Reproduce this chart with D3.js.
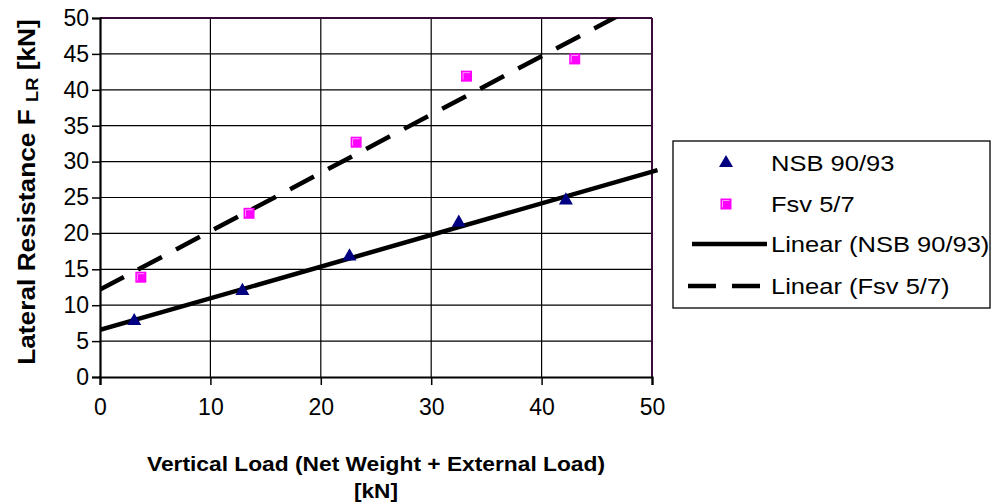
<!DOCTYPE html>
<html><head><meta charset="utf-8">
<script src="https://cdn.jsdelivr.net/npm/d3@7"></script>
<style>
html,body{margin:0;padding:0;background:#fff;}
svg{display:block;}
text{font-family:"Liberation Sans",Arial,sans-serif;}
</style></head>
<body>
<svg id="chart" width="993" height="502"></svg>
<script>
// ---- data ----
const nsbX = [3.1, 12.9, 22.6, 32.5, 42.2];
const nsbY = [7.8, 12.0, 16.8, 21.5, 24.6];
const fsvX = [3.7, 13.5, 23.2, 33.2, 43.0];
const fsvY = [13.9, 22.8, 32.7, 41.9, 44.3];
const xTicks = [0, 10, 20, 30, 40, 50];
const yTicks = [0, 5, 10, 15, 20, 25, 30, 35, 40, 45, 50];
const legendLabels = ["NSB 90/93", "Fsv 5/7", "Linear (NSB 90/93)", "Linear (Fsv 5/7)"];
const trendRange = [0, 50.5];

const svg = d3.select("#chart");
const L = 100, R = 652, T = 18, B = 377;
const x = d3.scaleLinear().domain([0, 50]).range([L, R]);
const y = d3.scaleLinear().domain([0, 50]).range([B, T]);

// grid
const g = svg.append("g");
g.selectAll(".hg").data(yTicks.filter(v => v > 0 && v < 50)).enter().append("line")
  .attr("x1", L).attr("x2", R).attr("y1", d => y(d)).attr("y2", d => y(d))
  .attr("stroke", "#000").attr("stroke-width", 1.2);
g.selectAll(".vg").data(xTicks.filter(v => v > 0 && v < 50)).enter().append("line")
  .attr("y1", T).attr("y2", B).attr("x1", d => x(d)).attr("x2", d => x(d))
  .attr("stroke", "#000").attr("stroke-width", 1.2);
// frame top/right (dark purple)
svg.append("line").attr("x1", L).attr("x2", R).attr("y1", T).attr("y2", T).attr("stroke", "#3a0a3a").attr("stroke-width", 2);
svg.append("line").attr("x1", R).attr("x2", R).attr("y1", T).attr("y2", B).attr("stroke", "#3a0a3a").attr("stroke-width", 2);

// axes
const xAxis = d3.axisBottom(x).tickValues(xTicks).tickSize(8).tickPadding(14).tickFormat(d3.format("d"));
const yAxis = d3.axisLeft(y).tickValues(yTicks).tickSize(8).tickPadding(3).tickFormat(d3.format("d"));
const gx = svg.append("g").attr("transform", `translate(0,${B})`).call(xAxis);
const gy = svg.append("g").attr("transform", `translate(${L},0)`).call(yAxis);
[gx, gy].forEach(a => {
  a.select(".domain").attr("stroke", "#000").attr("stroke-width", 2.2);
  a.selectAll(".tick line").attr("stroke", "#000").attr("stroke-width", 1.5);
  a.selectAll(".tick text").attr("fill", "#000").style("font-size", "23px").style("font-family", "'Liberation Sans',Arial,sans-serif");
});
gx.selectAll(".tick text").attr("dy", "0.71em");

// trend lines
function fit(xs, ys) {
  const mx = d3.mean(xs), my = d3.mean(ys);
  let sxy = 0, sxx = 0;
  xs.forEach((v, i) => { sxy += (v - mx) * (ys[i] - my); sxx += (v - mx) ** 2; });
  const m = sxy / sxx;
  return { m, b: my - m * mx };
}
svg.append("clipPath").attr("id", "clip").append("rect")
  .attr("x", L).attr("y", T).attr("width", R - L + 8).attr("height", B - T);
const line = d3.line().x(d => x(d[0])).y(d => y(d[1]));
const tn = fit(nsbX, nsbY), tf = fit(fsvX, fsvY);
const tg = svg.append("g").attr("clip-path", "url(#clip)");
tg.append("path").attr("d", line(trendRange.map(v => [v, tn.m * v + tn.b])))
  .attr("stroke", "#000").attr("stroke-width", 4.5).attr("fill", "none");
tg.append("path").attr("d", line(trendRange.map(v => [v, tf.m * v + tf.b])))
  .attr("stroke", "#000").attr("stroke-width", 4.5).attr("fill", "none").attr("stroke-dasharray", "27,16");

// markers
const tri = d3.symbol().type(d3.symbolTriangle).size(85);
svg.selectAll(".tri").data(nsbX.map((v, i) => [v, nsbY[i]])).enter().append("path")
  .attr("d", tri).attr("transform", d => `translate(${x(d[0])},${y(d[1])})`)
  .attr("fill", "#000080");
function square(sel, cx, cy) {
  sel.append("rect").attr("x", cx - 5.5).attr("y", cy - 5.5).attr("width", 11).attr("height", 11).attr("fill", "#ff00ff");
  sel.append("path").attr("d", `M${cx - 3.5},${cy + 3.5}V${cy - 3.5}H${cx + 3.5}`).attr("stroke", "#ff99ff").attr("stroke-width", 1).attr("fill", "none");
}
fsvX.forEach((v, i) => square(svg.append("g"), x(v), y(fsvY[i])));

// axis titles
svg.append("text").attr("x", (L + R) / 2).attr("y", 471).attr("text-anchor", "middle")
  .attr("textLength", 458).attr("lengthAdjust", "spacingAndGlyphs")
  .style("font-size", "21px").style("font-weight", "bold").text("Vertical Load (Net Weight + External Load)");
svg.append("text").attr("x", (L + R) / 2).attr("y", 498).attr("text-anchor", "middle")
  .attr("textLength", 44).attr("lengthAdjust", "spacingAndGlyphs")
  .style("font-size", "21px").style("font-weight", "bold").text("[kN]");
const yt = svg.append("text").attr("transform", "translate(35,192) rotate(-90)").attr("text-anchor", "middle")
  .style("font-size", "23px").style("font-weight", "bold");
yt.append("tspan").text("Lateral Resistance F ");
yt.append("tspan").style("font-size", "16px").attr("dy", 3).text("LR");
yt.append("tspan").attr("dy", -3).text(" [kN]");
// stretch y-title to the reference length
(function () {
  const len = yt.node().getComputedTextLength();
  const target = 346;
  yt.attr("transform", `translate(35,192) rotate(-90) scale(${target / len},1)`);
})();

// legend
const lg = svg.append("g");
lg.append("rect").attr("x", 673).attr("y", 141).attr("width", 317).attr("height", 167)
  .attr("fill", "#fff").attr("stroke", "#000").attr("stroke-width", 1.3);
const rows = [163, 204, 244, 286];
lg.append("path").attr("d", tri).attr("transform", `translate(726,${rows[0]})`).attr("fill", "#000080");
square(lg, 726, rows[1]);
lg.append("line").attr("x1", 692).attr("x2", 767).attr("y1", rows[2]).attr("y2", rows[2]).attr("stroke", "#000").attr("stroke-width", 4.5);
lg.append("line").attr("x1", 688).attr("x2", 761).attr("y1", rows[3]).attr("y2", rows[3]).attr("stroke", "#000").attr("stroke-width", 4.5).attr("stroke-dasharray", "28,16");
lg.selectAll(".lt").data(legendLabels).enter().append("text")
  .attr("transform", (d, i) => `translate(771,${rows[i] + 8}) scale(1.16,1)`)
  .style("font-size", "22px").attr("fill", "#000").text(d => d);
</script>
</body></html>
